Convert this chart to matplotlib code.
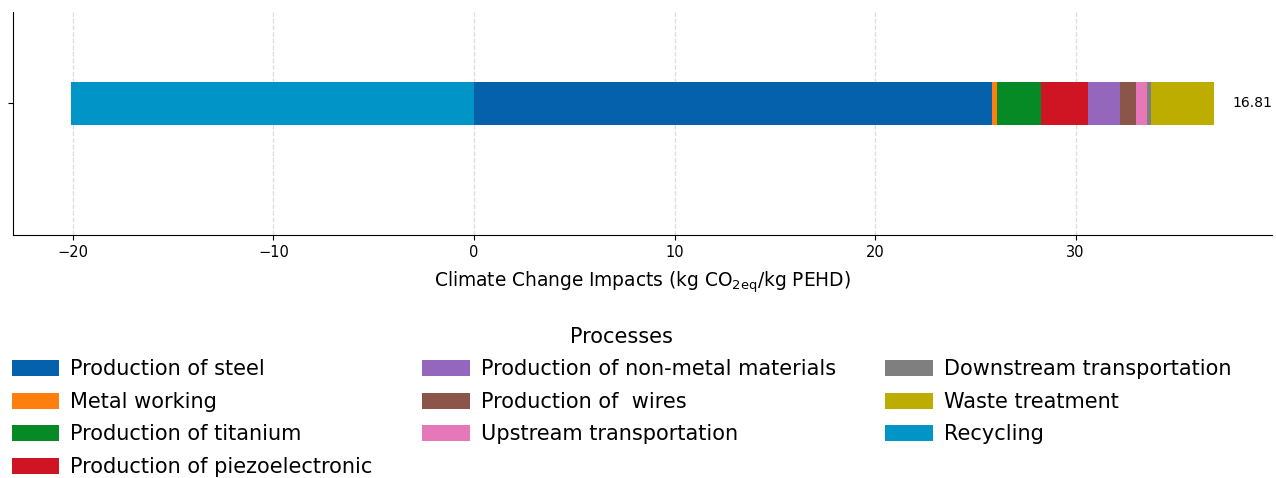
import numpy as np
import matplotlib
matplotlib.use('Agg')
import matplotlib.pyplot as plt
from matplotlib.patches import Patch

processes = ['Production of steel', 'Metal working', 'Production of titanium',
             'Production of piezoelectronic', 'Production of non-metal materials',
             'Production of  wires', 'Upstream transportation',
             'Downstream transportation', 'Waste treatment', 'Recycling']
impacts = [25.85, 0.23, 2.20, 2.32, 1.62, 0.80, 0.53, 0.22, 3.15, -20.11]
colors = ['#0561ab', '#ff7f0e', '#068a25', '#cf1424', '#9467bd',
          '#8c5549', '#e677b9', '#7f7f7f', '#bcad00', '#0095c6']

fig = plt.figure(figsize=(12.76, 4.78), dpi=100)
ax = fig.add_axes([0.010, 0.508, 0.987, 0.467])

# stack positives to the right of zero, negatives to the left
pos, neg = 0.0, 0.0
for name, val, c in zip(processes, impacts, colors):
    if val >= 0:
        ax.barh(0, val, left=pos, height=0.5, color=c, zorder=3)
        pos += val
    else:
        ax.barh(0, val, left=neg, height=0.5, color=c, zorder=3)
        neg += val

total = sum(impacts)
ax.text(pos + 0.9, 0, f'{total:.2f}', va='center', ha='left', fontsize=10)

ax.set_xlim(-23.0, 39.8)
ax.set_ylim(-1.53, 1.06)
ax.set_yticks([0])
ax.set_yticklabels([''])
ax.set_xticks([-20, -10, 0, 10, 20, 30])
ax.set_xticklabels(['\u221220', '\u221210', '0', '10', '20', '30'], fontsize=10.5)
ax.grid(axis='x', linestyle='--', color='#dddddd', linewidth=0.9, zorder=0)
ax.spines['top'].set_visible(False)
ax.spines['right'].set_visible(False)
ax.set_xlabel('Climate Change Impacts (kg CO$_{\\mathregular{2eq}}$/kg PEHD)',
              fontsize=13.4, labelpad=7)

handles = [Patch(facecolor=c, label=n) for n, c in zip(processes, colors)]
fig.legend(handles=handles, title='Processes', loc='lower center',
           bbox_to_anchor=(0.487, -0.037), ncol=3, frameon=False, fontsize=15,
           title_fontsize=15, handlelength=2.3, handleheight=0.8,
           columnspacing=2.35, labelspacing=0.6, handletextpad=0.53)

plt.savefig('out.png', dpi=100)
